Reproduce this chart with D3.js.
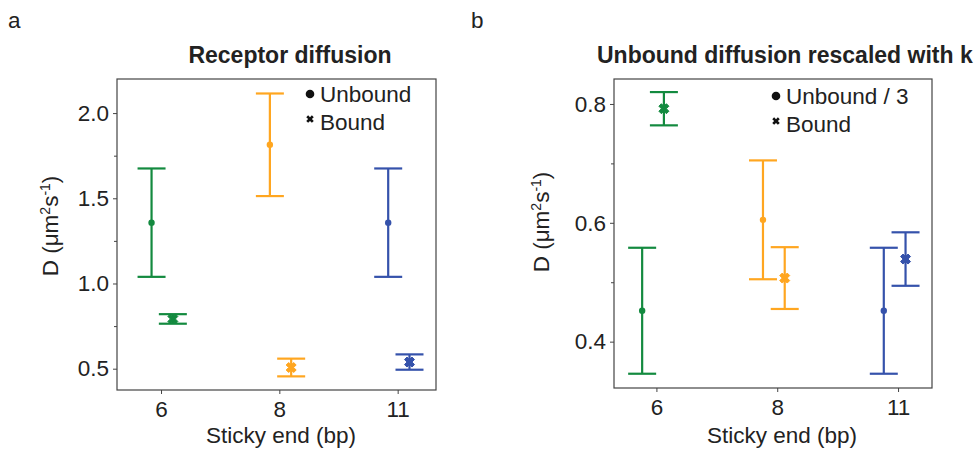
<!DOCTYPE html>
<html>
<head>
<meta charset="utf-8">
<script src="https://cdn.jsdelivr.net/npm/d3@7"></script>
<style>
  html, body { margin: 0; padding: 0; background: #fff; }
  svg { display: block; font-family: "Liberation Sans", Arial, Helvetica, sans-serif; }
</style>
</head>
<body>
<svg id="fig" width="974" height="450"></svg>
<script>
// Sticky-end lengths (categories) and one colour per construct
const stickyEnds = ["6", "8", "11"];
const constructColors = ["#138a3f", "#ffa620", "#3552ab"];

// Panel a: receptor diffusion coefficients (µm²/s), mean ± error
const unboundMean = [1.357, 1.814, 1.357];
const unboundErr  = [0.318, 0.301, 0.318];
const boundMean   = [0.792, 0.507, 0.539];
const boundErr    = [0.028, 0.052, 0.045];

// Panel b: unbound diffusion divided by 3, bound unchanged
const unboundScaledMean = [0.452, 0.605, 0.452];
const unboundScaledErr  = [0.106, 0.100, 0.106];

// Tick labels
const yTicksA = [0.5, 1.0, 1.5, 2.0];
const yMinorA = [0.75, 1.25, 1.75];
const yTicksB = [0.4, 0.6, 0.8];
const yMinorB = [0.5, 0.7];

const svg = d3.select("#fig");
const FONT = 22.5;
const TITLE_FONT = 23;
const INK = "#222";

const panels = [
  {
    letter: "a", letterX: 8,
    title: "Receptor diffusion", titleX: 290, titleAnchor: "middle",
    left: 117, right: 436, top: 79, bottom: 390,
    xDomain: [-0.372, 2.324], yDomain: [0.375, 2.2],
    yTicks: yTicksA, yMinor: yMinorA, yFmt: d3.format(".1f"),
    unbound: unboundMean, unboundE: unboundErr,
    bound: boundMean, boundE: boundErr,
    offsets: [-0.08, 0.10],
    legendX: 310, legendY: 94, legendLabels: ["Unbound", "Bound"],
    ylabelX: 58, ylabelY: 226, xlabelX: 281
  },
  {
    letter: "b", letterX: 471,
    title: "Unbound diffusion rescaled with k", titleX: 597, titleAnchor: "start",
    left: 614, right: 932, top: 79, bottom: 388,
    xDomain: [-0.351, 2.281], yDomain: [0.322, 0.842],
    yTicks: yTicksB, yMinor: yMinorB, yFmt: d3.format(".1f"),
    unbound: unboundScaledMean, unboundE: unboundScaledErr,
    bound: boundMean, boundE: boundErr,
    offsets: [-0.118, 0.062],
    legendX: 776, legendY: 96, legendLabels: ["Unbound / 3", "Bound"],
    ylabelX: 549, ylabelY: 222, xlabelX: 782
  }
];

// Filled, thick "X" marker of overall width s, centred on the origin
const xMarker = s => {
  const h = s / 2, q = s / 4;
  const pts = [[-q, -h], [0, -q], [q, -h], [h, -q], [q, 0], [h, q],
               [q, h], [0, q], [-q, h], [-h, q], [-q, 0], [-h, -q]];
  const p = d3.path();
  pts.forEach(([px, py], i) => i ? p.lineTo(px, py) : p.moveTo(px, py));
  p.closePath();
  return p.toString();
};

panels.forEach(p => {
  const x = d3.scaleLinear().domain(p.xDomain).range([p.left, p.right]);
  const y = d3.scaleLinear().domain(p.yDomain).range([p.bottom, p.top]);
  const g = svg.append("g");

  // panel letter
  svg.append("text").attr("x", p.letterX).attr("y", 28)
    .attr("font-size", FONT).attr("fill", INK).text(p.letter);

  // title
  g.append("text").attr("x", p.titleX).attr("y", 63)
    .attr("text-anchor", p.titleAnchor).attr("font-size", TITLE_FONT)
    .attr("font-weight", "bold").attr("fill", INK).text(p.title);

  // y axis: major ticks with labels, minor ticks without
  const yAxis = g.append("g").attr("transform", `translate(${p.left},0)`)
    .call(d3.axisLeft(y).tickValues(p.yTicks).tickFormat(p.yFmt).tickSize(4).tickPadding(4));
  g.append("g").attr("transform", `translate(${p.left},0)`)
    .call(d3.axisLeft(y).tickValues(p.yMinor).tickFormat("").tickSize(3))
    .call(a => a.select(".domain").remove());

  // x axis
  const xAxis = g.append("g").attr("transform", `translate(0,${p.bottom})`)
    .call(d3.axisBottom(x).tickValues(d3.range(stickyEnds.length))
      .tickFormat(i => stickyEnds[i]).tickSize(4).tickPadding(7));

  [yAxis, xAxis].forEach(a => {
    a.select(".domain").remove();
    a.selectAll("text").attr("font-size", FONT).attr("fill", INK)
      .attr("font-family", "Liberation Sans, Arial, sans-serif");
  });
  g.selectAll(".tick line").attr("stroke", "#444");

  // frame
  g.append("rect").attr("x", p.left).attr("y", p.top)
    .attr("width", p.right - p.left).attr("height", p.bottom - p.top)
    .attr("fill", "none").attr("stroke", "#444").attr("stroke-width", 1.2);

  // axis labels
  g.append("text").attr("x", p.xlabelX).attr("y", 443)
    .attr("text-anchor", "middle").attr("font-size", FONT).attr("fill", INK)
    .text("Sticky end (bp)");

  const yl = g.append("text")
    .attr("transform", `translate(${p.ylabelX},${p.ylabelY}) rotate(-90)`)
    .attr("text-anchor", "middle").attr("font-size", FONT).attr("fill", INK);
  yl.append("tspan").text("D (μm");
  yl.append("tspan").attr("font-size", 14).attr("dy", -8).text("2");
  yl.append("tspan").attr("dy", 8).text("s");
  yl.append("tspan").attr("font-size", 14).attr("dy", -8).text("-1");
  yl.append("tspan").attr("dy", 8).text(")");

  // error bars with caps
  const capHalf = 14;
  const drawSeries = (means, errs, offset, marker) => {
    means.forEach((m, i) => {
      const cx = x(i + offset);
      const col = constructColors[i];
      const s = g.append("g").attr("stroke", col).attr("stroke-width", 2.2);
      s.append("line").attr("x1", cx).attr("x2", cx)
        .attr("y1", y(m - errs[i])).attr("y2", y(m + errs[i]));
      [m - errs[i], m + errs[i]].forEach(v => {
        s.append("line").attr("x1", cx - capHalf).attr("x2", cx + capHalf)
          .attr("y1", y(v)).attr("y2", y(v));
      });
      if (marker === "dot") {
        g.append("circle").attr("cx", cx).attr("cy", y(m)).attr("r", 3.2).attr("fill", col);
      } else {
        g.append("path").attr("d", xMarker(10))
          .attr("transform", `translate(${cx},${y(m)})`)
          .attr("fill", col).attr("stroke", col).attr("stroke-width", 1)
          .attr("stroke-linejoin", "round");
      }
    });
  };
  drawSeries(p.unbound, p.unboundE, p.offsets[0], "dot");
  drawSeries(p.bound, p.boundE, p.offsets[1], "x");

  // legend
  const lg = g.append("g");
  lg.append("circle").attr("cx", p.legendX).attr("cy", p.legendY).attr("r", 4.3).attr("fill", "#111");
  lg.append("path").attr("d", xMarker(7.5))
    .attr("transform", `translate(${p.legendX},${p.legendY + 25})`).attr("fill", "#111");
  p.legendLabels.forEach((t, k) => {
    lg.append("text").attr("x", p.legendX + 10).attr("y", p.legendY + 8 + k * 28)
      .attr("font-size", FONT).attr("fill", INK).text(t);
  });
});

// next panel letter, cut by the bottom edge
svg.append("text").attr("x", 8).attr("y", 462).attr("font-size", FONT).attr("fill", INK).text("c");
</script>
</body>
</html>
